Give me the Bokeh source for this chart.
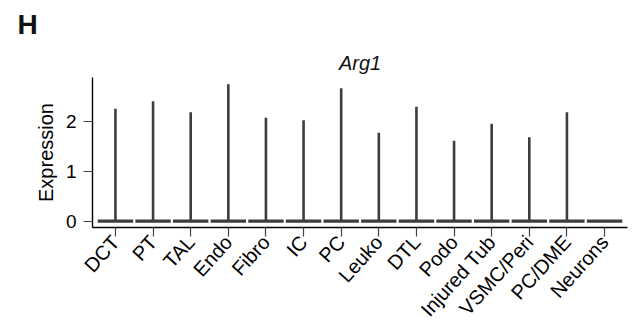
import math
from bokeh.plotting import figure
from bokeh.models import Range1d, FixedTicker, Title
from bokeh.embed import file_html
from bokeh.resources import INLINE

# ---- data ----
cell_types = ["DCT", "PT", "TAL", "Endo", "Fibro", "IC", "PC", "Leuko",
              "DTL", "Podo", "Injured Tub", "VSMC/Peri", "PC/DME", "Neurons"]
max_expression = [2.25, 2.40, 2.18, 2.74, 2.07, 2.02, 2.66, 1.77,
                  2.29, 1.61, 1.95, 1.68, 2.18, 0.0]
baseline = [0.0] * len(cell_types)
y_ticks = [0, 1, 2]
gene = "Arg1"
panel_letter = "H"

FONT = "Liberation Sans"
LINE = "#3d3d3d"

xs = list(range(len(cell_types)))
half_w = 0.47

p = figure(width=630, height=334,
           output_backend="svg", toolbar_location=None,
           x_range=Range1d(-0.61, len(cell_types) - 1 + 0.61),
           y_range=Range1d(-0.126, 2.874),
           min_border_left=92, min_border_right=3,
           min_border_top=77, min_border_bottom=107)

# outermost title: panel letter
p.title.text = panel_letter
p.title.align = "left"
p.title.offset = -75
p.title.standoff = 12
p.title.text_font = FONT
p.title.text_font_style = "bold"
p.title.text_font_size = "28px"
p.title.text_color = "#111111"

# gene title, closer to the frame
p.add_layout(Title(text=gene, align="center", standoff=8,
                   text_font=FONT, text_font_style="italic",
                   text_font_size="20px", text_color="#111111"), "above")

# flat violins (horizontal at zero) and their spikes
p.segment(x0=[x - half_w for x in xs], x1=[x + half_w for x in xs],
          y0=baseline, y1=baseline, line_color=LINE, line_width=3.2)
p.segment(x0=xs, x1=xs, y0=baseline, y1=max_expression,
          line_color=LINE, line_width=2.6)

p.grid.visible = False
p.outline_line_color = None

p.xaxis.ticker = FixedTicker(ticks=xs)
p.xaxis.major_label_overrides = {i: c for i, c in enumerate(cell_types)}
p.xaxis.major_label_orientation = math.radians(48)
p.yaxis.ticker = FixedTicker(ticks=y_ticks)
p.yaxis.axis_label = "Expression"

for ax in (p.xaxis[0], p.yaxis[0]):
    ax.axis_line_color = "black"
    ax.axis_line_width = 1.4
    ax.major_tick_line_color = "#444444"
    ax.major_tick_line_width = 1.2
    ax.major_tick_out = 9
    ax.major_tick_in = 0
    ax.minor_tick_line_color = None
    ax.major_label_text_font = FONT
    ax.major_label_text_color = "black"

p.xaxis.major_label_text_font_size = "20px"
p.xaxis.major_label_standoff = 2
p.yaxis.major_label_text_font_size = "19px"
p.yaxis.major_label_standoff = 7
p.yaxis.axis_label_text_font = FONT
p.yaxis.axis_label_text_font_style = "normal"
p.yaxis.axis_label_text_font_size = "20px"
p.yaxis.axis_label_text_color = "black"
p.yaxis.axis_label_standoff = 6

open("out.html", "w").write(file_html(p, INLINE))
